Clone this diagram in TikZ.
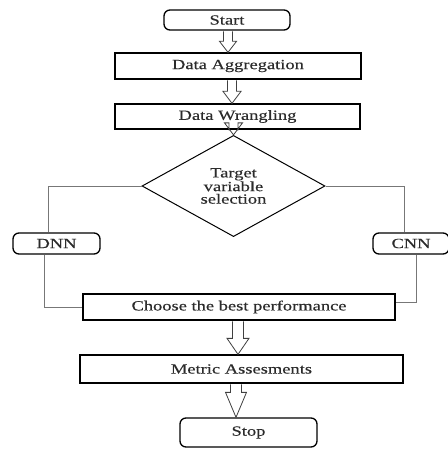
\documentclass[tikz,border=0pt]{standalone}
\usepackage{fontspec}
\setmainfont{Liberation Serif}[FakeStretch=1.32,FakeBold=0.4]
\usetikzlibrary{shapes.geometric,calc}
\definecolor{txt}{HTML}{2b2b2b}
\definecolor{lnk}{HTML}{777777}
\tikzset{
  box/.style={draw=black, line width=1.3pt, inner sep=0pt, text=txt,
    font=\fontsize{14}{12.5}\selectfont, align=center},
  term/.style={box, rounded corners=6pt},
  dia/.style={box, diamond, line width=1pt},
  conn/.style={draw=lnk, line width=0.7pt},
  harrow/.style={draw=black!75, line width=0.8pt, fill=white, line join=miter}
}
\newcommand\hollowarrow[5]{%
  \draw[harrow] let \p1=(#1), \p2=(#2) in
    (\x1-#3,\y1-0.7pt) -- (\x1-#3,\y2+#5) -- (\x1-#4,\y2+#5) -- (\x1,\y2)
    -- (\x1+#4,\y2+#5) -- (\x1+#3,\y2+#5) -- (\x1+#3,\y1-0.7pt);}
\begin{document}
\begin{tikzpicture}[x=1pt,y=-1pt]
\useasboundingbox (0,0) rectangle (447,449);
\node[term, minimum width=126pt, minimum height=20pt] (start) at (227,20) {Start};
\node[box, minimum width=246pt, minimum height=26pt] (agg) at (238,66) {Data Aggregation};
\node[box, minimum width=245pt, minimum height=25pt] (wr) at (237.5,116.5) {Data Wrangling};
\node[dia, minimum width=183pt, minimum height=68pt] (tv) at (233.5,186) {Target\\variable\\selection};
\node[term, minimum width=87pt, minimum height=21pt] (dnn) at (56.5,243.5) {DNN};
\node[term, minimum width=76pt, minimum height=21pt] (cnn) at (411,243.5) {CNN};
\node[box, minimum width=312pt, minimum height=26pt] (ch) at (239,307) {Choose the best performance};
\node[box, minimum width=323pt, minimum height=28pt] (met) at (241.5,369) {Metric Assesments};
\node[term, minimum width=137pt, minimum height=29pt] (stop) at (248.5,432.5) {Stop};
% connectors
\draw[conn] (tv.west) -| ([xshift=-8.5pt]dnn.north);
\draw[conn] ([xshift=-12.5pt]dnn.south) |- (ch.west);
\draw[conn] (tv.east) -| ([xshift=-7pt]cnn.north);
\draw[conn] ([xshift=5pt]cnn.south) |- ([yshift=5pt]ch.east);
% hollow arrows
\coordinate (a1) at ([xshift=1pt]start.south);
\coordinate (a2) at ([xshift=-6pt]agg.south);
\coordinate (a3) at (tv.north |- wr.south);
\coordinate (a4) at ([xshift=-1pt]ch.south);
\coordinate (a5) at ([xshift=-5.5pt]met.south);
\hollowarrow{a1}{agg.north}{4.5pt}{8.5pt}{11pt}
\hollowarrow{a2}{wr.north}{4.5pt}{9pt}{12pt}
\hollowarrow{a3}{tv.north}{4.5pt}{9pt}{12pt}
\hollowarrow{a4}{met.north}{5.5pt}{11pt}{16pt}
\hollowarrow{a5}{stop.north}{5.5pt}{10.5pt}{25pt}
\end{tikzpicture}
\end{document}
